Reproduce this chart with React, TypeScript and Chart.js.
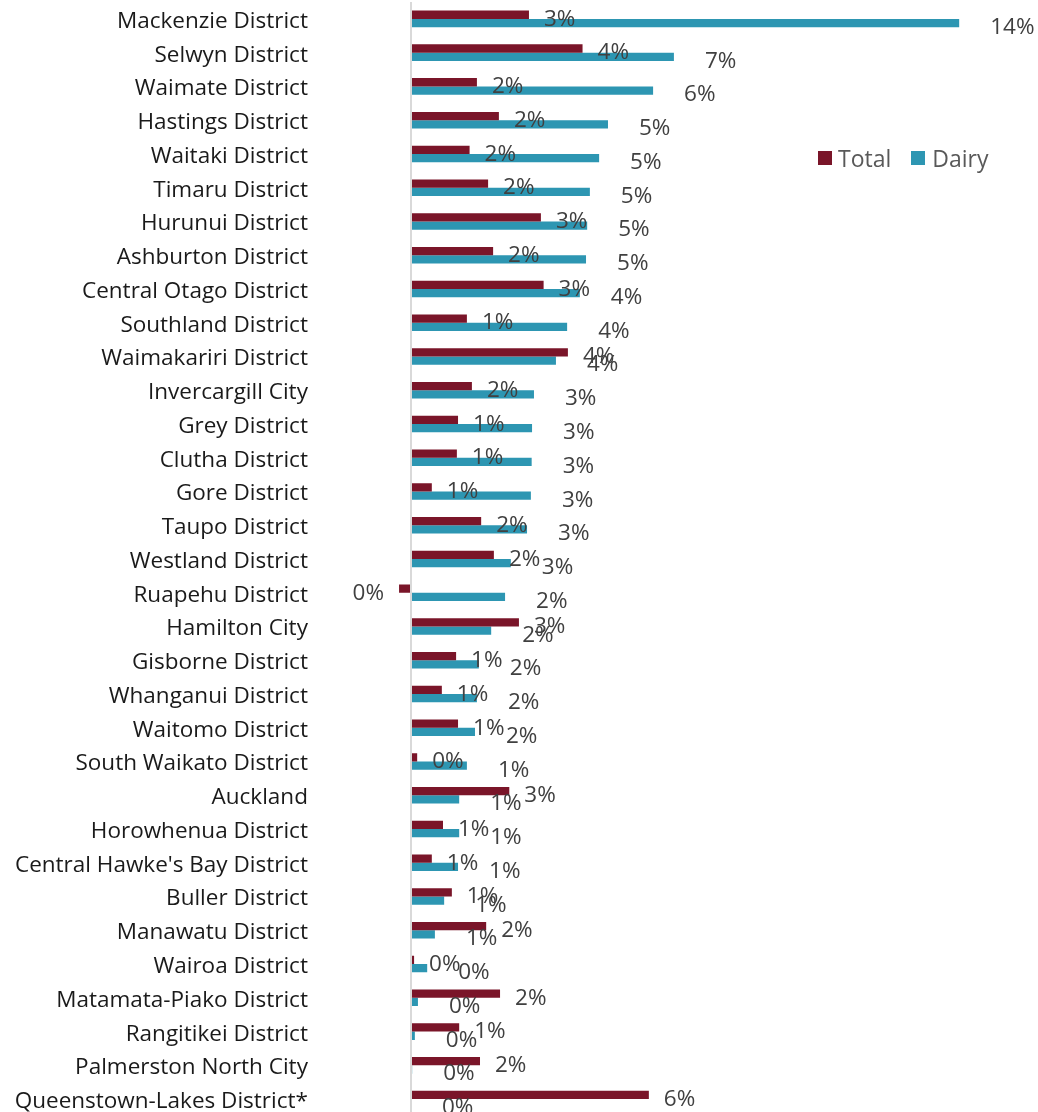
import React, { useEffect, useRef } from "react";
import { Chart, registerables } from "chart.js";

Chart.register(...registerables);

const categories = [
  "Mackenzie District",
  "Selwyn District",
  "Waimate District",
  "Hastings District",
  "Waitaki District",
  "Timaru District",
  "Hurunui District",
  "Ashburton District",
  "Central Otago District",
  "Southland District",
  "Waimakariri District",
  "Invercargill City",
  "Grey District",
  "Clutha District",
  "Gore District",
  "Taupo District",
  "Westland District",
  "Ruapehu District",
  "Hamilton City",
  "Gisborne District",
  "Whanganui District",
  "Waitomo District",
  "South Waikato District",
  "Auckland",
  "Horowhenua District",
  "Central Hawke's Bay District",
  "Buller District",
  "Manawatu District",
  "Wairoa District",
  "Matamata-Piako District",
  "Rangitikei District",
  "Palmerston North City",
  "Queenstown-Lakes District*",
];

const totalValues = [
  3.06, 4.45, 1.71, 2.28, 1.52, 2.0, 3.37, 2.13, 3.44, 1.45, 4.07, 1.58, 1.22,
  1.19, 0.54, 1.82, 2.15, -0.31, 2.8, 1.17, 0.8, 1.22, 0.16, 2.55, 0.83, 0.54,
  1.06, 1.95, 0.08, 2.31, 1.25, 1.79, 6.17,
];

const dairyValues = [
  14.22, 6.82, 6.28, 5.11, 4.88, 4.64, 4.57, 4.54, 4.38, 4.05, 3.76, 3.19,
  3.14, 3.13, 3.11, 3.01, 2.59, 2.44, 2.08, 1.76, 1.71, 1.66, 1.45, 1.25, 1.25,
  1.22, 0.86, 0.62, 0.42, 0.18, 0.1, 0.03, 0,
];

const seriesNames = ["Total", "Dairy"];
const seriesColors = ["#7A1529", "#2D96B2"];

const FONT = "'Open Sans', 'Noto Sans', sans-serif";

const fmt = (v: number) => {
  const r = Math.round(v);
  return `${r === 0 ? 0 : r}%`;
};

const labelPlugin = {
  id: "barLabels",
  afterDatasetsDraw(chart: any) {
    const ctx = chart.ctx;
    ctx.save();
    ctx.font = `22.5px ${FONT}`;
    ctx.fillStyle = "#404040";
    ctx.textBaseline = "middle";
    const offsets = [
      { dx: 15, dy: 4.5 },
      { dx: 31, dy: 4.5 },
    ];
    chart.data.datasets.forEach((ds: any, di: number) => {
      const meta = chart.getDatasetMeta(di);
      meta.data.forEach((el: any, i: number) => {
        const v = ds.data[i];
        const o = offsets[di];
        if (v >= 0) {
          ctx.textAlign = "left";
          ctx.fillText(fmt(v), el.x + o.dx, el.y + o.dy);
        } else {
          ctx.textAlign = "right";
          ctx.fillText(fmt(v), el.x - o.dx, el.y + o.dy);
        }
      });
    });
    ctx.restore();
  },
};

export default function App() {
  const ref = useRef<HTMLCanvasElement | null>(null);

  useEffect(() => {
    if (!ref.current) return;
    const chart = new Chart(ref.current, {
      type: "bar",
      data: {
        labels: categories,
        datasets: [
          {
            label: seriesNames[0],
            data: totalValues,
            backgroundColor: seriesColors[0],
            categoryPercentage: 0.49,
            barPercentage: 1,
          },
          {
            label: seriesNames[1],
            data: dairyValues,
            backgroundColor: seriesColors[1],
            categoryPercentage: 0.49,
            barPercentage: 1,
          },
        ],
      },
      options: {
        indexAxis: "y",
        responsive: false,
        animation: false,
        events: [],
        layout: { padding: { top: 2, bottom: 1, left: 0, right: 10.2 } },
        plugins: {
          legend: { display: false },
          tooltip: { enabled: false },
        },
        scales: {
          x: {
            type: "linear",
            min: -2,
            max: 16,
            position: "top",
            ticks: { display: false, stepSize: 1 },
            border: { display: false },
            grid: {
              drawTicks: false,
              tickLength: 0,
              lineWidth: 2,
              color: (c: any) =>
                c.tick && c.tick.value === 0 ? "#d9d9d9" : "rgba(0,0,0,0)",
            },
          },
          y: {
            type: "category",
            ticks: {
              padding: 26,
              labelOffset: 2.5,
              color: "#1a1a1a",
              font: { family: FONT, size: 22.5 },
              autoSkip: false,
            },
            border: { display: false },
            grid: { display: false, drawTicks: false },
            afterFit: (scale: any) => {
              scale.width = 333.9;
              scale.paddingTop = 0;
              scale.paddingBottom = 0;
            },
          },
        },
      },
      plugins: [labelPlugin],
    });
    return () => chart.destroy();
  }, []);

  return (
    <div
      style={{
        position: "absolute",
        left: 0,
        top: 0,
        width: 1038,
        height: 1112,
        overflow: "hidden",
        background: "#fff",
      }}
    >
      <canvas ref={ref} width={1038} height={1117} style={{ display: "block" }} />
      <div
        style={{
          position: "absolute",
          left: 818,
          top: 143,
          display: "flex",
          alignItems: "center",
          fontFamily: FONT,
          fontSize: 23,
          color: "#595959",
          lineHeight: "30px",
        }}
      >
        <span style={{ width: 14, height: 14, background: seriesColors[0], display: "inline-block", marginRight: 6 }} />
        <span style={{ marginRight: 20 }}>{seriesNames[0]}</span>
        <span style={{ width: 14, height: 14, background: seriesColors[1], display: "inline-block", marginRight: 7 }} />
        <span>{seriesNames[1]}</span>
      </div>
    </div>
  );
}
